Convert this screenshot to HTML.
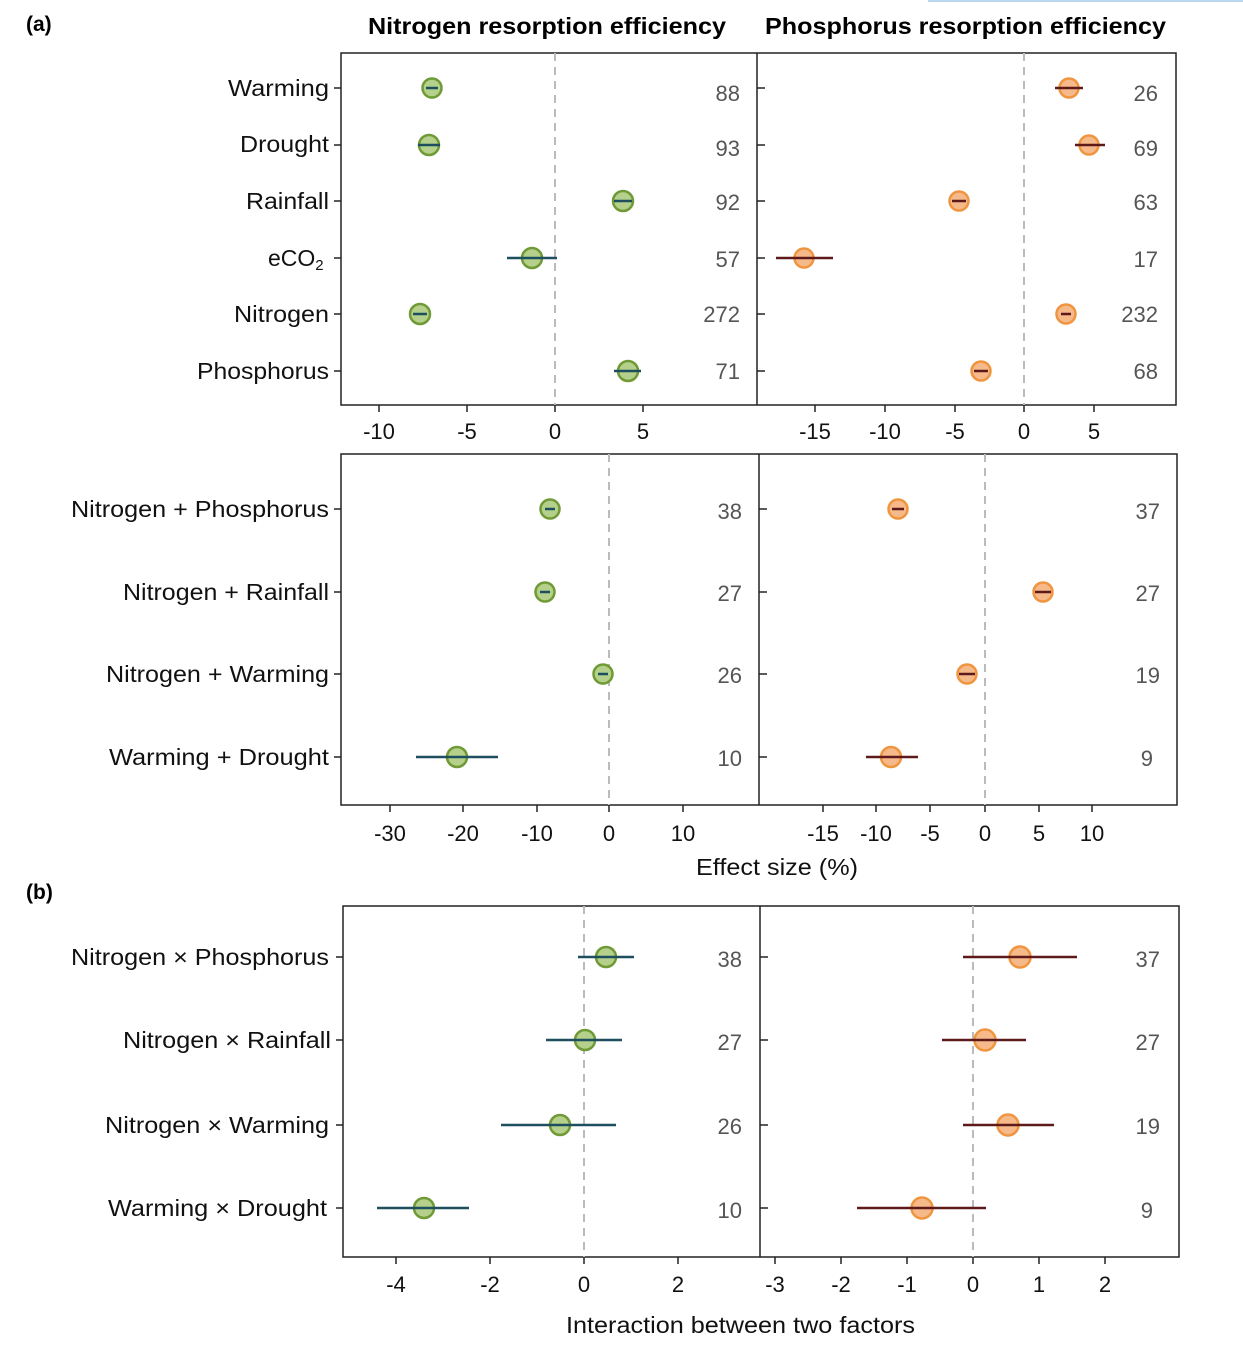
<!DOCTYPE html>
<html><head><meta charset="utf-8"><style>body{margin:0;background:#fff}svg{display:block}text{font-family:"Liberation Sans",Arial,sans-serif}</style></head><body>
<svg width="1243" height="1353" viewBox="0 0 1243 1353" xmlns="http://www.w3.org/2000/svg">
<rect x="928" y="0" width="315" height="2" fill="#bcd8f0"/>
<text x="26" y="31" font-size="21" font-weight="bold">(a)</text>
<text x="26" y="899" font-size="21" font-weight="bold">(b)</text>
<text x="368" y="34" font-size="23" font-weight="bold" textLength="358" lengthAdjust="spacingAndGlyphs">Nitrogen resorption efficiency</text>
<text x="765" y="34" font-size="23" font-weight="bold" textLength="401" lengthAdjust="spacingAndGlyphs">Phosphorus resorption efficiency</text>
<g fill="none" stroke="#222" stroke-width="1.5">
<rect x="341" y="53" width="835" height="352"/><line x1="757" y1="53" x2="757" y2="405"/>
<rect x="341" y="454" width="836" height="351"/><line x1="759" y1="454" x2="759" y2="805"/>
<rect x="343" y="906" width="836" height="351"/><line x1="760" y1="906" x2="760" y2="1257"/>
</g>
<g stroke="#bbb" stroke-width="2" stroke-dasharray="8,6">
<line x1="555" y1="53" x2="555" y2="405"/><line x1="1024" y1="53" x2="1024" y2="405"/>
<line x1="609" y1="454" x2="609" y2="805"/><line x1="985" y1="454" x2="985" y2="805"/>
<line x1="584" y1="906" x2="584" y2="1257"/><line x1="973" y1="906" x2="973" y2="1257"/>
</g>
<g font-size="23" fill="#111" lengthAdjust="spacingAndGlyphs">
<text x="228" y="96" textLength="101" lengthAdjust="spacingAndGlyphs">Warming</text>
<text x="240" y="152" textLength="89" lengthAdjust="spacingAndGlyphs">Drought</text>
<text x="246" y="209" textLength="83" lengthAdjust="spacingAndGlyphs">Rainfall</text>
<text x="268" y="266">eCO<tspan font-size="15" dy="4">2</tspan></text>
<text x="234" y="322" textLength="95" lengthAdjust="spacingAndGlyphs">Nitrogen</text>
<text x="197" y="379" textLength="132" lengthAdjust="spacingAndGlyphs">Phosphorus</text>
<text x="71" y="517" textLength="258" lengthAdjust="spacingAndGlyphs">Nitrogen + Phosphorus</text>
<text x="123" y="600" textLength="206" lengthAdjust="spacingAndGlyphs">Nitrogen + Rainfall</text>
<text x="106" y="682" textLength="223" lengthAdjust="spacingAndGlyphs">Nitrogen + Warming</text>
<text x="109" y="765" textLength="220" lengthAdjust="spacingAndGlyphs">Warming + Drought</text>
<text x="71" y="965" textLength="258" lengthAdjust="spacingAndGlyphs">Nitrogen × Phosphorus</text>
<text x="123" y="1048" textLength="208" lengthAdjust="spacingAndGlyphs">Nitrogen × Rainfall</text>
<text x="105" y="1133" textLength="224" lengthAdjust="spacingAndGlyphs">Nitrogen × Warming</text>
<text x="108" y="1216" textLength="219" lengthAdjust="spacingAndGlyphs">Warming × Drought</text>
</g>
<g stroke="#222" stroke-width="1.5">
<line x1="334" y1="88" x2="341" y2="88"/><line x1="334" y1="145" x2="341" y2="145"/><line x1="334" y1="201" x2="341" y2="201"/><line x1="334" y1="258" x2="341" y2="258"/><line x1="334" y1="314" x2="341" y2="314"/><line x1="334" y1="371" x2="341" y2="371"/>
<line x1="757" y1="88" x2="765" y2="88"/><line x1="757" y1="145" x2="765" y2="145"/><line x1="757" y1="201" x2="765" y2="201"/><line x1="757" y1="258" x2="765" y2="258"/><line x1="757" y1="314" x2="765" y2="314"/><line x1="757" y1="371" x2="765" y2="371"/>
<line x1="334" y1="509" x2="341" y2="509"/><line x1="334" y1="592" x2="341" y2="592"/><line x1="334" y1="674" x2="341" y2="674"/><line x1="334" y1="757" x2="341" y2="757"/>
<line x1="759" y1="509" x2="767" y2="509"/><line x1="759" y1="592" x2="767" y2="592"/><line x1="759" y1="674" x2="767" y2="674"/><line x1="759" y1="757" x2="767" y2="757"/>
<line x1="336" y1="957" x2="343" y2="957"/><line x1="336" y1="1040" x2="343" y2="1040"/><line x1="336" y1="1125" x2="343" y2="1125"/><line x1="336" y1="1208" x2="343" y2="1208"/>
<line x1="760" y1="957" x2="768" y2="957"/><line x1="760" y1="1040" x2="768" y2="1040"/><line x1="760" y1="1125" x2="768" y2="1125"/><line x1="760" y1="1208" x2="768" y2="1208"/>
<line x1="379" y1="405" x2="379" y2="412"/><line x1="467" y1="405" x2="467" y2="412"/><line x1="555" y1="405" x2="555" y2="412"/><line x1="643" y1="405" x2="643" y2="412"/>
<line x1="815" y1="405" x2="815" y2="412"/><line x1="885" y1="405" x2="885" y2="412"/><line x1="955" y1="405" x2="955" y2="412"/><line x1="1024" y1="405" x2="1024" y2="412"/><line x1="1094" y1="405" x2="1094" y2="412"/>
<line x1="390" y1="805" x2="390" y2="812"/><line x1="463" y1="805" x2="463" y2="812"/><line x1="537" y1="805" x2="537" y2="812"/><line x1="609" y1="805" x2="609" y2="812"/><line x1="683" y1="805" x2="683" y2="812"/>
<line x1="823" y1="805" x2="823" y2="812"/><line x1="876" y1="805" x2="876" y2="812"/><line x1="930" y1="805" x2="930" y2="812"/><line x1="985" y1="805" x2="985" y2="812"/><line x1="1039" y1="805" x2="1039" y2="812"/><line x1="1092" y1="805" x2="1092" y2="812"/>
<line x1="396" y1="1257" x2="396" y2="1264"/><line x1="490" y1="1257" x2="490" y2="1264"/><line x1="584" y1="1257" x2="584" y2="1264"/><line x1="678" y1="1257" x2="678" y2="1264"/>
<line x1="775" y1="1257" x2="775" y2="1264"/><line x1="841" y1="1257" x2="841" y2="1264"/><line x1="907" y1="1257" x2="907" y2="1264"/><line x1="973" y1="1257" x2="973" y2="1264"/><line x1="1039" y1="1257" x2="1039" y2="1264"/><line x1="1105" y1="1257" x2="1105" y2="1264"/>
</g>
<g font-size="22" text-anchor="middle" fill="#111">
<text x="379" y="439">-10</text><text x="467" y="439">-5</text><text x="555" y="439">0</text><text x="643" y="439">5</text>
<text x="815" y="439">-15</text><text x="885" y="439">-10</text><text x="955" y="439">-5</text><text x="1024" y="439">0</text><text x="1094" y="439">5</text>
<text x="390" y="841">-30</text><text x="463" y="841">-20</text><text x="537" y="841">-10</text><text x="609" y="841">0</text><text x="683" y="841">10</text>
<text x="823" y="841">-15</text><text x="876" y="841">-10</text><text x="930" y="841">-5</text><text x="985" y="841">0</text><text x="1039" y="841">5</text><text x="1092" y="841">10</text>
<text x="396" y="1292">-4</text><text x="490" y="1292">-2</text><text x="584" y="1292">0</text><text x="678" y="1292">2</text>
<text x="775" y="1292">-3</text><text x="841" y="1292">-2</text><text x="907" y="1292">-1</text><text x="973" y="1292">0</text><text x="1039" y="1292">1</text><text x="1105" y="1292">2</text>
</g>
<g font-size="23" fill="#111">
<text x="696" y="875" textLength="162" lengthAdjust="spacingAndGlyphs">Effect size (%)</text>
<text x="566" y="1333" textLength="349" lengthAdjust="spacingAndGlyphs">Interaction between two factors</text>
</g>
<g font-size="22" text-anchor="end" fill="#555">
<text x="740" y="101">88</text><text x="740" y="156">93</text><text x="740" y="210">92</text><text x="740" y="267">57</text><text x="740" y="322">272</text><text x="740" y="379">71</text>
<text x="1158" y="101">26</text><text x="1158" y="156">69</text><text x="1158" y="210">63</text><text x="1158" y="267">17</text><text x="1158" y="322">232</text><text x="1158" y="379">68</text>
<text x="742" y="519">38</text><text x="742" y="601">27</text><text x="742" y="683">26</text><text x="742" y="766">10</text>
<text x="1160" y="519">37</text><text x="1160" y="601">27</text><text x="1160" y="683">19</text><text x="1153" y="766">9</text>
<text x="742" y="967">38</text><text x="742" y="1050">27</text><text x="742" y="1134">26</text><text x="742" y="1218">10</text>
<text x="1160" y="967">37</text><text x="1160" y="1050">27</text><text x="1160" y="1134">19</text><text x="1153" y="1218">9</text>
</g>
<g fill="#b5d08a" stroke="#6f9a35" stroke-width="2.5">
<circle cx="432" cy="88" r="9.5"/><circle cx="429" cy="145" r="10"/><circle cx="623" cy="201" r="10"/><circle cx="532" cy="258" r="10"/><circle cx="420" cy="314" r="10"/><circle cx="628" cy="371" r="10"/>
<circle cx="550" cy="509" r="9.5"/><circle cx="545" cy="592" r="9.5"/><circle cx="603" cy="674" r="9.5"/><circle cx="457" cy="757" r="10"/>
<circle cx="606" cy="957" r="10"/><circle cx="585" cy="1040" r="10"/><circle cx="560" cy="1125" r="10"/><circle cx="424" cy="1208" r="10"/>
</g>
<g stroke="#1d4f5e" stroke-width="2.5">
<line x1="426" y1="88" x2="438" y2="88"/><line x1="418" y1="145" x2="440" y2="145"/><line x1="614" y1="201" x2="632" y2="201"/><line x1="507" y1="258" x2="557" y2="258"/><line x1="413" y1="314" x2="427" y2="314"/><line x1="614" y1="371" x2="641" y2="371"/>
<line x1="545" y1="509" x2="555" y2="509"/><line x1="540" y1="592" x2="550" y2="592"/><line x1="598" y1="674" x2="608" y2="674"/><line x1="416" y1="757" x2="498" y2="757"/>
<line x1="578" y1="957" x2="634" y2="957"/><line x1="546" y1="1040" x2="622" y2="1040"/><line x1="501" y1="1125" x2="616" y2="1125"/><line x1="377" y1="1208" x2="469" y2="1208"/>
</g>
<g fill="#f6b98a" stroke="#f0953f" stroke-width="2.5">
<circle cx="1069" cy="88" r="9.5"/><circle cx="1089" cy="145" r="9.5"/><circle cx="959" cy="201" r="9.5"/><circle cx="804" cy="258" r="9.5"/><circle cx="1066" cy="314" r="9.5"/><circle cx="981" cy="371" r="9.5"/>
<circle cx="898" cy="509" r="9.5"/><circle cx="1043" cy="592" r="9.5"/><circle cx="967" cy="674" r="9.5"/><circle cx="891" cy="757" r="10"/>
<circle cx="1020" cy="957" r="10.5"/><circle cx="985" cy="1040" r="10.5"/><circle cx="1008" cy="1125" r="10.5"/><circle cx="922" cy="1208" r="10.5"/>
</g>
<g stroke="#5e1a1a" stroke-width="2.5">
<line x1="1055" y1="88" x2="1083" y2="88"/><line x1="1075" y1="145" x2="1105" y2="145"/><line x1="952" y1="201" x2="966" y2="201"/><line x1="776" y1="258" x2="833" y2="258"/><line x1="1061" y1="314" x2="1071" y2="314"/><line x1="974" y1="371" x2="988" y2="371"/>
<line x1="892" y1="509" x2="904" y2="509"/><line x1="1035" y1="592" x2="1051" y2="592"/><line x1="959" y1="674" x2="975" y2="674"/><line x1="866" y1="757" x2="918" y2="757"/>
<line x1="963" y1="957" x2="1077" y2="957"/><line x1="942" y1="1040" x2="1026" y2="1040"/><line x1="963" y1="1125" x2="1054" y2="1125"/><line x1="857" y1="1208" x2="986" y2="1208"/>
</g>
</svg>
</body></html>
